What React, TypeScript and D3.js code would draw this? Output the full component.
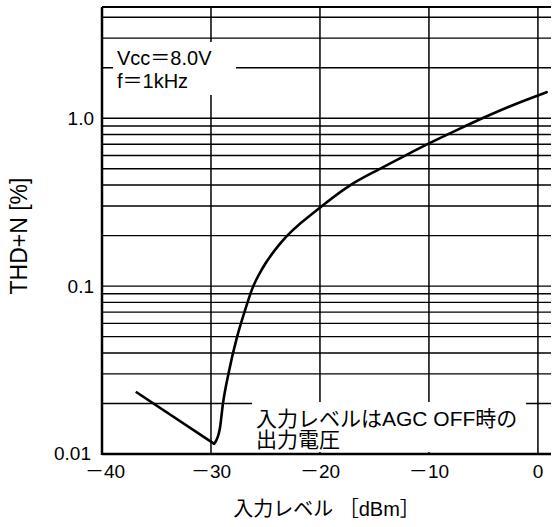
import React from 'react';
import * as d3 from 'd3';

// THD+N vs input level
const fallLevel = [-36.9, -29.7];
const fallThd = [0.0235, 0.0115];

const riseLevel = [-29.7, -29.2, -28.9, -28.4, -27.6, -26.9, -26.2, -25.2, -23.6, -20.1, -17.2, -14.5, -12.0, -9.9, -7.4, -5.0, -2.6, 0.8];
const riseThd = [0.0115, 0.014, 0.020, 0.030, 0.050, 0.071, 0.097, 0.130, 0.181, 0.29, 0.40, 0.50, 0.608, 0.713, 0.853, 1.007, 1.176, 1.43];

const xTicks = [-40, -30, -20, -10, 0];
const yTickValues = [0.01, 0.1, 1.0];
const yTickLabels = ['0.01', '0.1', '1.0'];

const W = 553;
const H = 527;
const plot = { left: 102, right: 551, top: 7, bottom: 454 };

const latin = '"Liberation Sans", Arial, "Noto Sans CJK JP", sans-serif';
const cjk = '"Noto Sans CJK JP", "Liberation Sans", sans-serif';

const App: React.FC = () => {
  const x = d3.scaleLinear().domain([-40, 1.2]).range([plot.left, plot.right]);
  const y = d3.scaleLog().domain([0.01, 4.6]).range([plot.bottom, plot.top]);

  const gridY = y.ticks().filter(v => v > 0.01 && v <= 4.6);

  const straight = d3.line<number>()
    .x((_, i) => x(fallLevel[i]))
    .y((_, i) => y(fallThd[i]))
    .curve(d3.curveLinear);

  const smooth = d3.line<number>()
    .x((_, i) => x(riseLevel[i]))
    .y((_, i) => y(riseThd[i]))
    .curve(d3.curveMonotoneX);

  return (
    <svg width={W} height={H} style={{ position: 'absolute', left: 0, top: 0, background: '#fff' }}>
      <rect x={0} y={0} width={W} height={H} fill="#fff" />

      {/* horizontal log grid */}
      {gridY.map(v => (
        <line key={'h' + v} x1={plot.left} x2={plot.right} y1={y(v)} y2={y(v)} stroke="#000" strokeWidth={1.4} />
      ))}

      {/* vertical grid */}
      {xTicks.slice(1).map(v => (
        <line key={'v' + v} x1={x(v)} x2={x(v)} y1={plot.top} y2={plot.bottom} stroke="#000" strokeWidth={1.5} />
      ))}

      {/* white backing behind the notes */}
      <rect x={113} y={42} width={123} height={53} fill="#fff" />
      <rect x={252} y={402} width={274} height={50} fill="#fff" />

      {/* frame */}
      <line x1={plot.left} x2={plot.right} y1={plot.top} y2={plot.top} stroke="#000" strokeWidth={2} />
      <line x1={plot.left} x2={plot.left} y1={plot.top} y2={plot.bottom + 1} stroke="#000" strokeWidth={2.5} />
      <line x1={plot.left} x2={plot.right} y1={plot.bottom} y2={plot.bottom} stroke="#000" strokeWidth={2.5} />

      {/* curve */}
      <path d={straight(fallLevel) || ''} fill="none" stroke="#000" strokeWidth={2.6} strokeLinejoin="round" />
      <path d={smooth(riseLevel) || ''} fill="none" stroke="#000" strokeWidth={2.6} strokeLinejoin="round" strokeLinecap="round" />

      {/* y tick labels */}
      {yTickValues.map((v, i) => (
        <text key={'yt' + v} x={v === 0.01 ? 91 : 94} y={y(v) + (v === 0.01 ? -1 : 0)} dy="0.35em" textAnchor="end"
          fontFamily={latin} fontSize={19} fill="#000">
          {yTickLabels[i]}
        </text>
      ))}

      {/* x tick labels */}
      {xTicks.map(v => (
        <text key={'xt' + v} x={x(v) + (v === -40 ? 3 : 0)} y={478} textAnchor="middle" fontFamily={latin} fontSize={19} fill="#000">
          {v < 0 && <tspan fontFamily={cjk}>－</tspan>}
          <tspan>{Math.abs(v)}</tspan>
        </text>
      ))}

      {/* notes */}
      <text x={117} y={65} fontFamily={latin} fontSize={20} fill="#000">Vcc＝8.0V</text>
      <text x={117} y={88} fontFamily={latin} fontSize={20} fill="#000">f＝1kHz</text>

      <text x={256} y={426} fontFamily={latin} fontSize={21} fill="#000">入力レベルはAGC OFF時の</text>
      <text x={256} y={447} fontFamily={latin} fontSize={21} fill="#000">出力電圧</text>

      {/* axis titles */}
      <text x={(plot.left + plot.right) / 2} y={516} textAnchor="middle" fontFamily={latin} fontSize={20} fill="#000">
        入力レベル ［dBm］
      </text>
      <text transform={`translate(27, ${236}) rotate(-90)`} textAnchor="middle" fontFamily={latin} fontSize={23} fill="#000">
        THD+N [%]
      </text>
    </svg>
  );
};

export default App;
